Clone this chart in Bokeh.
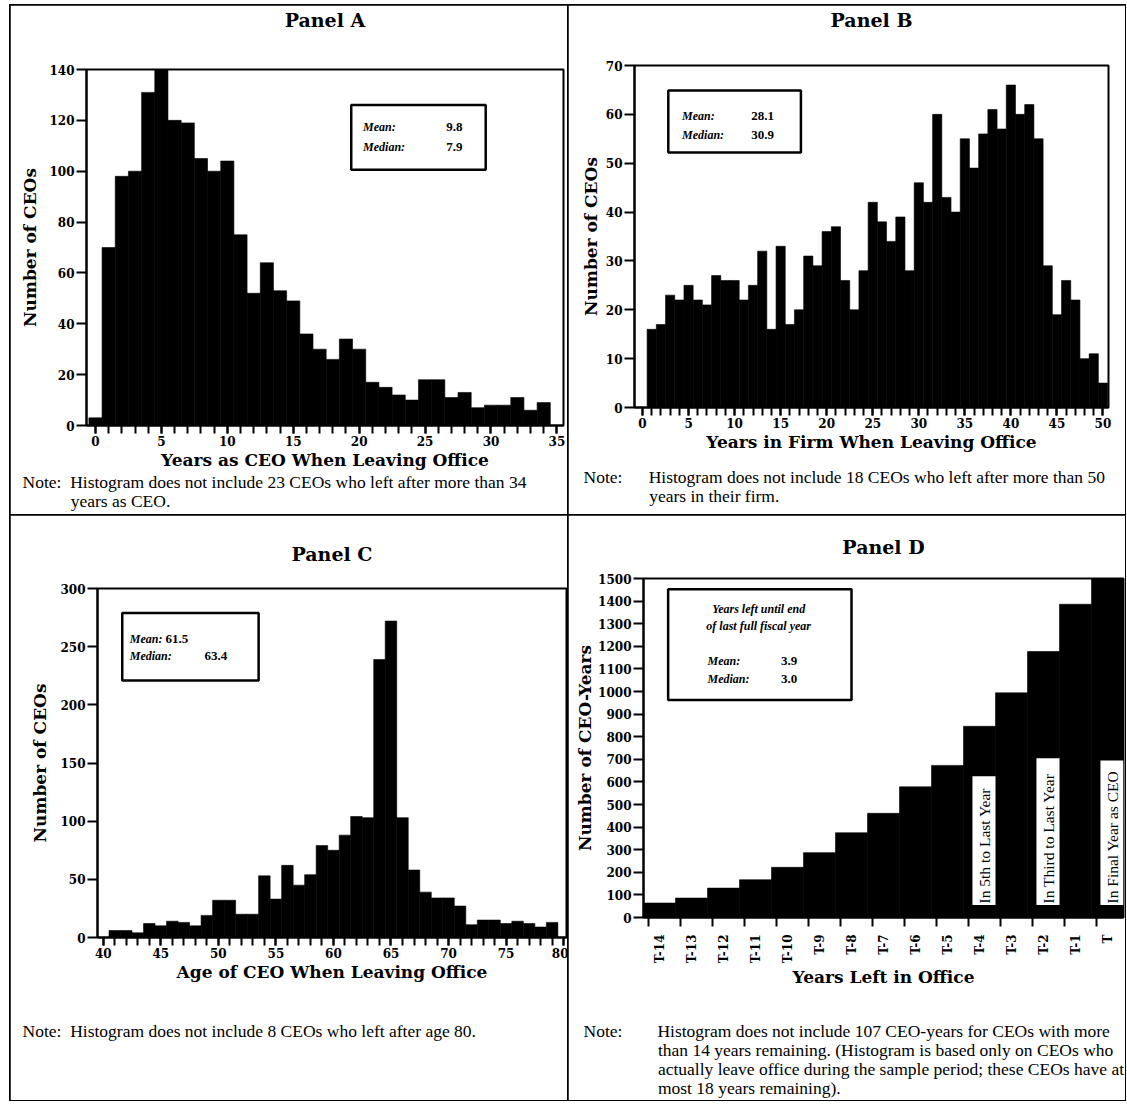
import math
from bokeh.plotting import figure
from bokeh.models import Label, FixedTicker, Range1d, BoxAnnotation, Title, Spacer
from bokeh.layouts import row, column
from bokeh.embed import file_html
from bokeh.resources import INLINE

# ---------------- data ----------------
a_ticks = [0, 5, 10, 15, 20, 25, 30, 35]
a_years = list(range(0, 35))
a_counts = [3, 70, 98, 100, 131, 141, 120, 119, 105, 100, 104, 75, 52, 64, 53,
            49, 36, 30, 26, 34, 30, 17, 15, 12, 10, 18, 18, 11, 13, 7, 8, 8, 11, 6, 9]
a_yticks = [0, 20, 40, 60, 80, 100, 120, 140]

b_ticks = [0, 5, 10, 15, 20, 25, 30, 35, 40, 45, 50]
b_years = list(range(1, 51))
b_counts = [16, 17, 23, 22, 25, 22, 21, 27, 26, 26, 22, 25, 32, 16, 33, 17, 20, 31, 29, 36,
            37, 26, 20, 28, 42, 38, 34, 39, 28, 46, 42, 60, 43, 40, 55, 49, 56, 61, 57, 66,
            60, 62, 55, 29, 19, 26, 22, 10, 11, 5]
b_yticks = [0, 10, 20, 30, 40, 50, 60, 70]

c_ticks = [40, 45, 50, 55, 60, 65, 70, 75, 80]
c_ages = list(range(41, 80))
c_counts = [6, 6, 4, 12, 10, 14, 13, 10, 19, 32, 32, 20, 20, 53, 33, 62, 45, 54, 79, 75,
            88, 104, 103, 239, 272, 103, 58, 39, 34, 34, 27, 11, 15, 15, 12, 14, 12, 9, 13]
c_yticks = [0, 50, 100, 150, 200, 250, 300]

d_labels = ["T-14", "T-13", "T-12", "T-11", "T-10", "T-9", "T-8", "T-7", "T-6", "T-5",
            "T-4", "T-3", "T-2", "T-1", "T"]
d_values = [64, 86, 130, 167, 222, 287, 375, 461, 578, 673, 846, 994, 1177, 1386, 1510]
d_yticks = list(range(0, 1501, 100))

stats_a = ("9.8", "7.9")
stats_b = ("28.1", "30.9")
stats_c = ("61.5", "63.4")
stats_d = ("3.9", "3.0")

BOLD = "DejaVu Serif"
NOTE = "Liberation Serif"
NOTE_SIZE = "17.5px"
NB = "\u00a0"


def panel(width, height, xr, yr, L, R, T, B):
    p = figure(width=width, height=height, x_range=Range1d(*xr), y_range=Range1d(*yr),
               output_backend="svg", toolbar_location=None, title_location=None,
               min_border_left=L, min_border_right=width - R,
               min_border_top=T, min_border_bottom=height - B)
    try:
        p.frame_align = False
    except Exception:
        pass
    p.frame_width = R - L
    p.frame_height = B - T
    p.outline_line_color = "black"
    p.outline_line_width = 2
    p.outline_line_alpha = 1
    p.grid.visible = False
    p.background_fill_color = "white"
    p.border_fill_color = "white"
    p.styles = {"outline": "2px solid black", "outline-offset": "-1px"}
    for ax in (p.xaxis[0], p.yaxis[0]):
        ax.axis_line_width = 2
        ax.axis_line_color = "black"
        ax.major_tick_line_width = 2
        ax.major_tick_in = 0
        ax.major_tick_out = 8
        ax.minor_tick_line_width = 2
        ax.minor_tick_in = 0
        ax.minor_tick_out = 8
        ax.major_label_text_font = BOLD
        ax.major_label_text_font_style = "bold"
        ax.major_label_text_font_size = "12px"
        ax.major_label_text_color = "black"
        ax.axis_label_text_font = BOLD
        ax.axis_label_text_font_style = "bold"
        ax.axis_label_text_font_size = "17px"
        ax.axis_label_text_color = "black"
        ax.major_label_standoff = 2
        ax.axis_label_standoff = 1
    p.yaxis[0].major_tick_out = 10
    p.yaxis[0].minor_tick_line_color = None
    return p


def txt(p, x, y, text, size="12px", font=NOTE, style="normal", align="left",
        baseline="middle", angle=0.0):
    p.add_layout(Label(x=x, y=y, text=text,
                       text_font=font, text_font_size=size, text_font_style=style,
                       text_align=align, text_baseline=baseline, angle=angle,
                       text_color="black"))


def make_title(text, size, font, style, align, offset, standoff, fallback_size=None):
    t = Title(text=text, align=align, offset=offset, text_font=font,
              text_font_size=size, text_font_style=style, text_color="black",
              vertical_align="middle")
    try:
        t.standoff = standoff
    except Exception:
        try:
            t.standoff = 0
        except Exception:
            pass
        if fallback_size:
            t.text_font_size = fallback_size
    return t


def gap(p, side, height):
    # invisible spacer row between the frame and a caption
    p.add_layout(make_title(NB, "10px", NOTE, "normal", "left", 0, max(height - 12, 0)), side)


def head(p, text, offset, space):
    gap(p, "above", space)
    p.add_layout(make_title(text, "19px", BOLD, "bold", "center", offset, 0), "above")


def note(p, offset, gap_nb, lines, space):
    if space > 0:
        gap(p, "below", space)
    first = "Note:" + NB * gap_nb + lines[0]
    indent = NB * (gap_nb + 9)
    items = [first] + [indent + ln for ln in lines[1:]]
    for s in items:
        p.add_layout(make_title(s, NOTE_SIZE, NOTE, "normal", "left", offset, -3,
                                fallback_size="15.5px"), "below")


def statbox(p, left, right, bottom, top):
    p.add_layout(BoxAnnotation(left=left, right=right, bottom=bottom, top=top,
                               fill_color="white", fill_alpha=1, line_alpha=1,
                               line_color="black", line_width=2.5))


def bars(p, x, top):
    p.vbar(x=x, top=top, bottom=0, width=1, fill_color="black",
           line_color="black", line_width=0.6)


# ---------------- Panel A ----------------
pa = panel(558, 510, (-0.68, 35.5), (0, 140), 76, 553, 64, 420)
bars(pa, a_years, a_counts)
pa.xaxis.ticker = FixedTicker(ticks=a_ticks, minor_ticks=list(range(a_ticks[0], a_ticks[-1] + 1)))
pa.yaxis.ticker = FixedTicker(ticks=a_yticks)
pa.xaxis.axis_label = "Years as CEO When Leaving Office"
pa.yaxis.axis_label = "Number of CEOs"
pa.yaxis.axis_label_standoff = 6
statbox(pa, 19.4, 29.6, 100.6, 126)
txt(pa, 20.3, 117.5, "Mean:", size="12px", style="bold italic")
txt(pa, 20.3, 109.5, "Median:", size="12px", style="bold italic")
txt(pa, 26.6, 117.5, stats_a[0], size="13px", style="bold")
txt(pa, 26.6, 109.5, stats_a[1], size="13px", style="bold")
head(pa, "Panel A", -37, 37)
note(pa, -64, 2,
     ["Histogram does not include 23 CEOs who left after more than 34",
      "years as CEO."], 0)

# ---------------- Panel B ----------------
pb = panel(557, 510, (-0.87, 50.6), (0, 70), 66, 540, 60, 402)
bars(pb, b_years, b_counts)
pb.xaxis.ticker = FixedTicker(ticks=b_ticks, minor_ticks=list(range(b_ticks[0], b_ticks[-1] + 1)))
pb.yaxis.ticker = FixedTicker(ticks=b_yticks)
pb.xaxis.axis_label = "Years in Firm When Leaving Office"
pb.yaxis.axis_label = "Number of CEOs"
pb.yaxis.axis_label_standoff = 2
statbox(pb, 2.8, 17.2, 52.2, 64.9)
txt(pb, 4.3, 59.6, "Mean:", size="12px", style="bold italic")
txt(pb, 4.3, 55.8, "Median:", size="12px", style="bold italic")
txt(pb, 11.8, 59.6, stats_b[0], size="13px", style="bold")
txt(pb, 11.8, 55.8, stats_b[1], size="13px", style="bold")
head(pb, "Panel B", -24, 33)
note(pb, -51, 6,
     ["Histogram does not include 18 CEOs who left after more than 50",
      "years in their firm."], 12)

# ---------------- Panel C ----------------
pc = panel(558, 585, (39.5, 80.25), (0, 300), 87, 556, 73, 422)
bars(pc, c_ages, c_counts)
pc.xaxis.ticker = FixedTicker(ticks=c_ticks, minor_ticks=list(range(c_ticks[0], c_ticks[-1] + 1)))
pc.yaxis.ticker = FixedTicker(ticks=c_yticks)
pc.xaxis.axis_label = "Age of CEO When Leaving Office"
pc.yaxis.axis_label = "Number of CEOs"
pc.yaxis.axis_label_standoff = 7
statbox(pc, 41.65, 53.5, 221, 279)
txt(pc, 42.3, 257, "Mean:", size="12px", style="bold italic")
txt(pc, 42.3, 242, "Median:", size="12px", style="bold italic")
txt(pc, 45.4, 257, stats_c[0], size="13px", style="bold")
txt(pc, 48.8, 242, stats_c[1], size="13px", style="bold")
head(pc, "Panel C", -21, 22)
note(pc, -75, 2,
     ["Histogram does not include 8 CEOs who left after age 80."], 36)

# ---------------- Panel D ----------------
d_x = list(range(len(d_labels)))
pd_ = panel(557, 585, (-0.5, len(d_labels) - 0.5), (0, 1500), 75, 555, 63, 402)
bars(pd_, d_x, d_values)
pd_.xaxis.ticker = FixedTicker(ticks=d_x, minor_ticks=[i - 0.35 for i in d_x])
pd_.xaxis.major_label_overrides = {i: lab for i, lab in zip(d_x, d_labels)}
pd_.xaxis.major_tick_out = 0
pd_.xaxis.minor_tick_out = 9
pd_.xaxis.major_label_orientation = math.pi / 2
pd_.xaxis.major_label_standoff = 8
pd_.yaxis.ticker = FixedTicker(ticks=d_yticks)
pd_.xaxis.axis_label = "Years Left in Office"
pd_.yaxis.axis_label = "Number of CEO-Years"
pd_.yaxis.axis_label_standoff = 0
statbox(pd_, 0.27, 6.0, 962, 1452)
txt(pd_, 3.1, 1364, "Years left until end", size="12px", style="bold italic", align="center")
txt(pd_, 3.1, 1291, "of last full fiscal year", size="12px", style="bold italic", align="center")
txt(pd_, 1.5, 1137, "Mean:", size="12px", style="bold italic")
txt(pd_, 1.5, 1057, "Median:", size="12px", style="bold italic")
txt(pd_, 3.8, 1137, stats_d[0], size="13px", style="bold")
txt(pd_, 3.8, 1057, stats_d[1], size="13px", style="bold")
for lab, text, ytop in (("T-4", "In 5th to Last Year", 625),
                        ("T-2", "In Third to Last Year", 705),
                        ("T", "In Final Year as CEO", 695)):
    i = d_labels.index(lab)
    pd_.add_layout(BoxAnnotation(left=i - 0.22, right=i + 0.5, bottom=55, top=ytop,
                                 fill_color="white", fill_alpha=1, line_color=None))
    txt(pd_, i + 0.15, 62, text, size="15.5px", font=NOTE, align="left",
        baseline="middle", angle=math.pi / 2)
head(pd_, "Panel D", -35, 19)
note(pd_, -60, 8,
     ["Histogram does not include 107 CEO-years for CEOs with more",
      "than 14 years remaining.  (Histogram is based only on CEOs who",
      "actually leave office during the sample period; these CEOs have at",
      "most 18 years remaining)."], 30)

grid = column(row(pa, pb), row(pc, pd_))
page = column(Spacer(height=5), row(Spacer(width=10), grid))
open("out.html", "w").write(file_html(page, INLINE))
